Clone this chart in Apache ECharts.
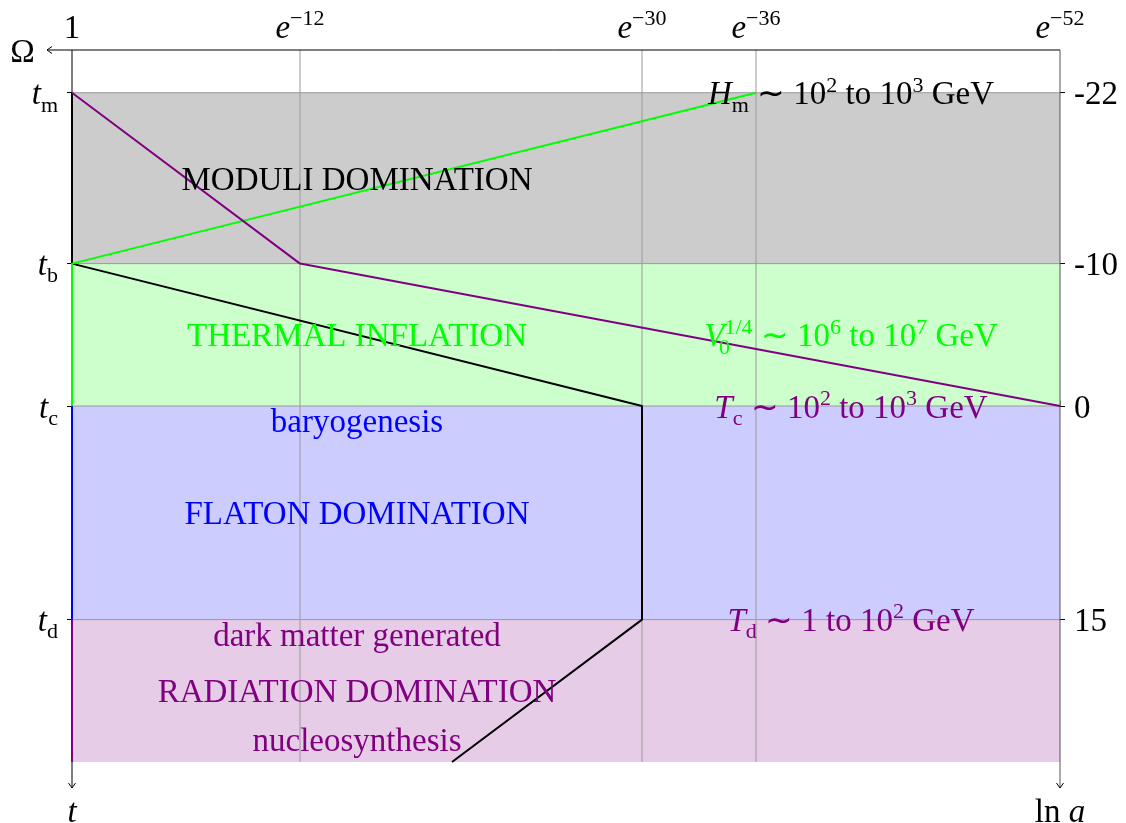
<!DOCTYPE html>
<html>
<head>
<meta charset="utf-8">
<script src="https://cdn.jsdelivr.net/npm/echarts@6/dist/echarts.min.js"></script>
<style>html,body{margin:0;padding:0;background:#fff}#chart{width:1126px;height:823px}</style>
</head>
<body>
<div id="chart"></div>
<script>
// ---- data ----
const lnAMax = 52;
const topTickValues = [0, 12, 30, 36, 52];
const topTickExps = ['', '−12', '−30', '−36', '−52'];
const timeTickValues = [-22, -10, 0, 15];
const timeTickSubs = ['m', 'b', 'c', 'd'];
const lnTickLabels = ['-22', '-10', '0', '15'];
const bandEdges = [-22, -10, 0, 15, 25];
const bandColors = ['#cccccc', '#ccffcc', '#ccccff', '#e6cce6'];
const gridXs = [12, 30, 36];
const blackCurve = [[0, -22], [0, -10], [30, 0], [30, 15], [20, 25]];
const greenCurve = [[0, 0], [0, -10], [36, -22]];
const blueCurve = [[0, 0], [0, 15]];
const purpleVertical = [[0, 15], [0, 25]];
const purpleCurve = [[0, -22], [12, -10], [52, 0]];
// axis arrows: [fromX, fromY, toX, toY]
const axisArrows = [[52, -25, 0, -25], [0, -25, 0, 25], [52, -25, 52, 25]];

const FONT = 'Liberation Serif';
function richFor(color) {
  return {
    n: {fontFamily: FONT, fontSize: 33, color: color, lineHeight: 42},
    i: {fontFamily: FONT, fontSize: 33, fontStyle: 'italic', color: color, lineHeight: 42},
    sup: {fontFamily: FONT, fontSize: 22, color: color, lineHeight: 22, verticalAlign: 'top'},
    sub: {fontFamily: FONT, fontSize: 22, color: color, lineHeight: 20, verticalAlign: 'bottom'},
    sub0: {fontFamily: FONT, fontSize: 22, color: color, lineHeight: 20, verticalAlign: 'bottom', width: 0, align: 'left'}
  };
}
const BLACK = '#000000', GREEN = '#00ff00', BLUE = '#0000ff', PURPLE = '#800080';

const annotations = [
  {pos: [15, -16], color: BLACK, text: '{n|MODULI DOMINATION}'},
  {pos: [15, -5], color: GREEN, text: '{n|THERMAL INFLATION}'},
  {pos: [15, 1], color: BLUE, text: '{n|baryogenesis}'},
  {pos: [15, 7.5], color: BLUE, text: '{n|FLATON DOMINATION}'},
  {pos: [15, 16], color: PURPLE, text: '{n|dark matter generated}'},
  {pos: [15, 20], color: PURPLE, text: '{n|RADIATION DOMINATION}'},
  {pos: [15, 23.4], color: PURPLE, text: '{n|nucleosynthesis}'},
  {pos: [41, -22], color: BLACK, text: '{i|H}{sub|m}{n| ∼ 10}{sup|2}{n| to 10}{sup|3}{n| GeV}'},
  {pos: [41, -5], color: GREEN, text: '{i|V}{sub0|0}{sup|1/4}{n| ∼ 10}{sup|6}{n| to 10}{sup|7}{n| GeV}'},
  {pos: [41, 0], color: PURPLE, text: '{i|T}{sub|c}{n| ∼ 10}{sup|2}{n| to 10}{sup|3}{n| GeV}'},
  {pos: [41, 15], color: PURPLE, text: '{i|T}{sub|d}{n| ∼ 1 to 10}{sup|2}{n| GeV}'},
  {pos: [-2.6, -25], color: BLACK, text: '{n|Ω}'},
  {pos: [0, 28.4], color: BLACK, text: '{i|t}'},
  {pos: [52, 28.4], color: BLACK, text: '{n|ln }{i|a}'}
];

// ---- chart ----
const chart = echarts.init(document.getElementById('chart'), null, {renderer: 'canvas'});

function lineSeries(data, color, width, z) {
  return {
    type: 'line', data: data, symbol: 'none', clip: false, silent: true, z: z || 5,
    lineStyle: {color: color, width: width}, animation: false
  };
}

const arrowColors = ['#000', '#000', '#555'];
const arrowExtend = [25, 26, 26];

const series = [];
// bands
series.push({
  type: 'line', data: [], silent: true, z: 1,
  markArea: {
    silent: true,
    data: bandColors.map((c, k) => [
      {coord: [0, bandEdges[k]], itemStyle: {color: c, opacity: 1}},
      {coord: [lnAMax, bandEdges[k + 1]]}
    ])
  }
});
// horizontal band edges
timeTickValues.forEach(v => series.push(lineSeries([[0, v], [lnAMax, v]], '#999999', 1, 2)));
// vertical grid lines
gridXs.forEach(x => series.push(lineSeries([[x, -25], [x, 25]], '#999999', 1, 2)));
// axes with arrow heads
series.push({
  type: 'custom', clip: false, silent: true, z: 4, animation: false,
  encode: {x: [0, 2], y: [1, 3]},
  data: axisArrows,
  renderItem: function (params, api) {
    const p1 = api.coord([api.value(0), api.value(1)]);
    const p2 = api.coord([api.value(2), api.value(3)]);
    let dx = p2[0] - p1[0], dy = p2[1] - p1[1];
    const len = Math.sqrt(dx * dx + dy * dy);
    dx /= len; dy /= len;
    const ext = arrowExtend[params.dataIndex];
    const tip = [p2[0] + dx * ext, p2[1] + dy * ext];
    const back = [tip[0] - dx * 5, tip[1] - dy * 5];
    const px = -dy, py = dx;
    const color = arrowColors[params.dataIndex];
    return {
      type: 'group',
      children: [
        {type: 'line', shape: {x1: p1[0], y1: p1[1], x2: tip[0], y2: tip[1]},
          style: {stroke: color, lineWidth: 1}},
        {type: 'polyline', shape: {points: [[back[0] + px * 3.5, back[1] + py * 3.5], tip, [back[0] - px * 3.5, back[1] - py * 3.5]]},
          style: {stroke: '#000', lineWidth: 1, fill: null}}
      ]
    };
  }
});
// curves
series.push(lineSeries(blackCurve, BLACK, 2, 6));
series.push(lineSeries(greenCurve, GREEN, 2, 6));
series.push(lineSeries(blueCurve, BLUE, 2, 6));
series.push(lineSeries(purpleVertical, PURPLE, 2, 6));
series.push(lineSeries(purpleCurve, PURPLE, 2, 6));
// text annotations
series.push({
  type: 'scatter', clip: false, silent: true, z: 10, symbolSize: 0, animation: false,
  itemStyle: {opacity: 1},
  data: annotations.map(a => ({
    value: a.pos,
    label: {show: true, position: 'inside', offset: [0, 3], formatter: a.text, rich: richFor(a.color)}
  }))
});

const tickLabelRich = richFor(BLACK);

chart.setOption({
  animation: false,
  grid: {left: 72, right: 66, top: 50, bottom: 61},
  xAxis: {
    type: 'value', min: 0, max: lnAMax, position: 'top',
    axisLine: {show: false}, splitLine: {show: false},
    axisTick: {show: true, customValues: topTickValues, length: 5, lineStyle: {color: '#888'}},
    axisLabel: {
      customValues: topTickValues, margin: 0, rich: tickLabelRich,
      formatter: v => {
        const k = topTickValues.indexOf(v);
        return k === 0 ? '{n|1}' : '{i|e}{sup|' + topTickExps[k] + '}';
      }
    }
  },
  yAxis: [{
    type: 'value', min: -25, max: 25, inverse: true, position: 'left',
    axisLine: {show: false}, splitLine: {show: false},
    axisTick: {show: true, customValues: timeTickValues, length: 5, lineStyle: {color: '#000'}},
    axisLabel: {
      customValues: timeTickValues, margin: 14, rich: tickLabelRich, padding: [6, 0, 0, 0],
      formatter: v => '{i|t}{sub|' + timeTickSubs[timeTickValues.indexOf(v)] + '}'
    }
  }, {
    type: 'value', min: -25, max: 25, inverse: true, position: 'right',
    axisLine: {show: false}, splitLine: {show: false},
    axisTick: {show: true, customValues: timeTickValues, length: 5, lineStyle: {color: '#000'}},
    axisLabel: {
      customValues: timeTickValues, margin: 14, rich: tickLabelRich, padding: [6, 0, 0, 0],
      formatter: v => '{n|' + lnTickLabels[timeTickValues.indexOf(v)] + '}'
    }
  }],
  series: series
});
</script>
</body>
</html>
